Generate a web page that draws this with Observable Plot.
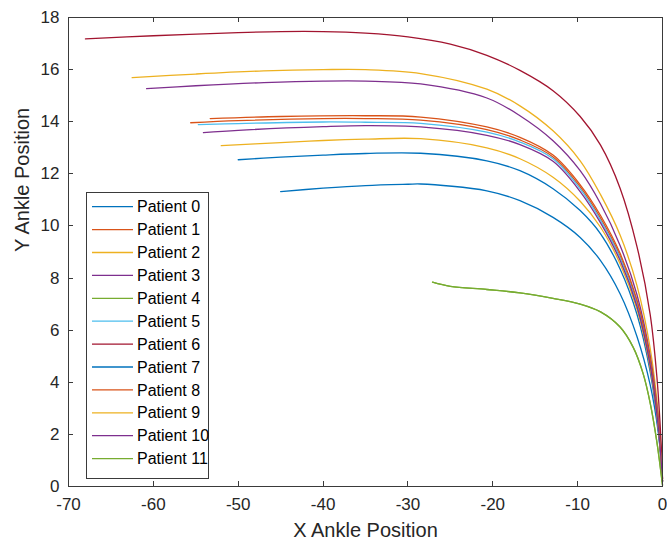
<!DOCTYPE html>
<html><head><meta charset="utf-8">
<script src="https://cdn.jsdelivr.net/npm/d3@7"></script>
<script src="https://cdn.jsdelivr.net/npm/@observablehq/plot@0.6"></script>
<style>
html,body{margin:0;padding:0;background:#fff;}
#chart{position:relative;width:667px;height:548px;}
</style></head><body><div id="chart"></div>
<script>
const patientNames = ["Patient 0","Patient 1","Patient 2","Patient 3","Patient 4","Patient 5","Patient 6","Patient 7","Patient 8","Patient 9","Patient 10","Patient 11"];
const xTicks = [-70,-60,-50,-40,-30,-20,-10,0];
const yTicks = [0,2,4,6,8,10,12,14,16,18];

// [x, y] points
const curve0 = [[-45,11.32],[-40,11.45],[-35,11.55],[-30,11.6],[-28.5,11.61],[-20.7,11.35],[-16.8,10.97],[-12.9,10.33],[-9.7,9.56],[-7.3,8.67],[-5,7.4],[-3,5.75],[-1.45,3.9],[-0.47,2.0],[0,0.2]];
const curve1 = [[-55.6,13.96],[-50,14.04],[-40,14.12],[-35,14.12],[-28.5,14.06],[-20.7,13.7],[-16.8,13.3],[-12.9,12.65],[-9.7,11.5],[-7.3,10.3],[-5,8.85],[-3,7.05],[-1.45,4.8],[-0.47,2.3],[0,0.2]];
const curve2 = [[-62.5,15.69],[-55,15.83],[-47,15.95],[-40,16.0],[-35,16.0],[-28.5,15.85],[-20.7,15.25],[-16.8,14.61],[-12.9,13.65],[-9.7,12.5],[-7.3,11.2],[-5,9.65],[-3,7.7],[-1.45,5.3],[-0.47,2.7],[0,0.3]];
const curve3 = [[-60.8,15.27],[-55,15.38],[-47,15.5],[-40,15.56],[-35,15.56],[-28.5,15.45],[-20.7,14.91],[-16.8,14.23],[-12.9,13.27],[-9.7,12.12],[-7.3,10.85],[-5,9.25],[-3,7.35],[-1.45,5.0],[-0.47,2.5],[0,0.3]];
const curve4 = [[-27.1,7.84],[-25,7.68],[-20.7,7.56],[-16.8,7.43],[-12.9,7.22],[-9.7,7.0],[-7.3,6.7],[-5,6.12],[-3.45,5.34],[-2.3,4.35],[-1.45,3.2],[-0.66,1.7],[0,0.05]];
const curve5 = [[-54.7,13.89],[-50,13.93],[-40,13.99],[-35,13.98],[-28.5,13.94],[-20.7,13.6],[-16.8,13.22],[-12.9,12.58],[-9.7,11.42],[-7.3,10.22],[-5,8.78],[-3,7.0],[-1.45,4.75],[-0.47,2.25],[0,0.2]];
const curve6 = [[-68,17.18],[-60,17.3],[-50,17.42],[-45,17.46],[-40,17.46],[-35,17.4],[-30,17.26],[-25,16.98],[-20.7,16.55],[-16.8,15.97],[-12.9,15.19],[-9.7,14.2],[-7.3,13.1],[-5,11.45],[-3,9.2],[-1.45,6.6],[-0.66,4.2],[-0.2,1.9],[0,0.3]];
const curve7 = [[-50,12.54],[-45,12.64],[-40,12.72],[-35,12.78],[-28.5,12.79],[-20.7,12.5],[-16.8,12.12],[-12.9,11.43],[-9.7,10.59],[-7.3,9.7],[-5,8.35],[-3,6.6],[-1.45,4.4],[-0.47,2.1],[0,0.2]];
const curve8 = [[-53.3,14.12],[-45,14.2],[-35,14.23],[-28.5,14.18],[-20.7,13.8],[-16.8,13.4],[-12.9,12.72],[-9.7,11.58],[-7.3,10.4],[-5,8.95],[-3,7.15],[-1.45,4.9],[-0.47,2.35],[0,0.2]];
const curve9 = [[-52,13.08],[-45,13.2],[-40,13.28],[-35,13.33],[-28.5,13.35],[-20.7,13.0],[-16.8,12.58],[-12.9,11.87],[-9.7,10.95],[-7.3,9.95],[-5,8.55],[-3,6.8],[-1.45,4.55],[-0.47,2.15],[0,0.2]];
const curve10 = [[-54.1,13.58],[-50,13.67],[-40,13.81],[-35,13.85],[-28.5,13.8],[-20.7,13.48],[-16.8,13.12],[-12.9,12.48],[-9.7,11.32],[-7.3,10.12],[-5,8.68],[-3,6.9],[-1.45,4.65],[-0.47,2.2],[0,0.2]];
const curve11 = [[-27.1,7.84],[-25,7.68],[-20.7,7.56],[-16.8,7.43],[-12.9,7.22],[-9.7,7.0],[-7.3,6.7],[-5,6.12],[-3.45,5.34],[-2.3,4.35],[-1.45,3.2],[-0.66,1.7],[0,0.05]];

const lineColors = ["#0072BD","#D95319","#EDB120","#7E2F8E","#77AC30","#4DBEEE","#A2142F","#0072BD","#D95319","#EDB120","#7E2F8E","#77AC30"];

const curves = [curve0,curve1,curve2,curve3,curve4,curve5,curve6,curve7,curve8,curve9,curve10,curve11];
const rows = curves.flatMap((c, i) => c.map(([x, y]) => ({patient: patientNames[i], x, y})));

const W = 667, H = 548, mL = 68, mR = 5, mT = 17, mB = 62;
const font = "'Liberation Sans', Arial, Helvetica, sans-serif";

const plot = Plot.plot({
  width: W, height: H,
  marginLeft: mL, marginRight: mR, marginTop: mT, marginBottom: mB,
  style: {fontFamily: font, background: "#fff", color: "#262626", overflow: "visible"},
  x: {domain: [-70, 0]},
  y: {domain: [0, 18]},
  color: {domain: patientNames, range: lineColors},
  marks: [
    Plot.line(rows, {x: "x", y: "y", z: "patient", stroke: "patient", strokeWidth: 1.3, curve: "catmull-rom"}),
    Plot.frame({stroke: "#3a3a3a", strokeWidth: 1}),
    Plot.axisX(xTicks, {anchor: "bottom", tickSize: 0, tickPadding: 11, fontSize: 17, label: null, tickFormat: d => String(d)}),
    Plot.axisY(yTicks, {anchor: "left", tickSize: 0, tickPadding: 9, fontSize: 17, label: null, tickFormat: d => String(d)}),
    Plot.text(["X Ankle Position"], {text: d => d, frameAnchor: "bottom", dy: 50, fontSize: 20, fill: "#262626"}),
    Plot.text(["Y Ankle Position"], {text: d => d, frameAnchor: "left", dx: -46, rotate: -90, fontSize: 20, fill: "#262626"})
  ]
});

document.getElementById("chart").appendChild(plot);

// inward ticks on all four sides (MATLAB box style)
const svg = d3.select(plot);
const sx = plot.scale("x"), sy = plot.scale("y"), sc = plot.scale("color");
const tg = svg.append("g").attr("stroke", "#3a3a3a").attr("stroke-width", 1);
const tl = 5;
xTicks.forEach(v => {
  const px = Math.round(sx.apply(v)) + 0.5;
  tg.append("line").attr("x1", px).attr("x2", px).attr("y1", H - mB).attr("y2", H - mB - tl);
  tg.append("line").attr("x1", px).attr("x2", px).attr("y1", mT).attr("y2", mT + tl);
});
yTicks.forEach(v => {
  const py = Math.round(sy.apply(v)) + 0.5;
  tg.append("line").attr("x1", mL).attr("x2", mL + tl).attr("y1", py).attr("y2", py);
  tg.append("line").attr("x1", W - mR).attr("x2", W - mR - tl).attr("y1", py).attr("y2", py);
});

// legend box inside the axes
const lg = svg.append("g").attr("font-family", font).attr("font-size", 16).attr("text-anchor", "start");
lg.append("rect").attr("x", 86.5).attr("y", 192.5).attr("width", 122).attr("height", 286)
  .attr("fill", "#fff").attr("stroke", "#3a3a3a").attr("stroke-width", 1);
patientNames.forEach((n, i) => {
  const cy = 206.7 + 22.9 * i;
  lg.append("line").attr("x1", 92).attr("x2", 133).attr("y1", cy).attr("y2", cy)
    .attr("stroke", sc.apply(n)).attr("stroke-width", 1.3);
  lg.append("text").attr("x", 137).attr("y", cy).attr("dy", "0.35em").attr("text-anchor", "start").attr("fill", "#000").text(n);
});
</script>
</body></html>
